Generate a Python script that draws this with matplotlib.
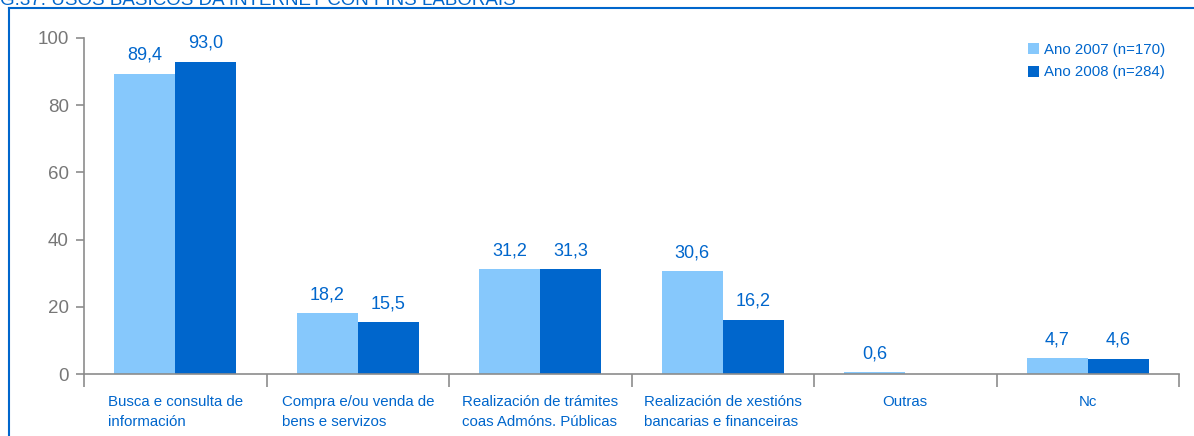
import numpy as np
import matplotlib.pyplot as plt
from matplotlib.lines import Line2D

plt.rcParams['font.family'] = ['Liberation Sans', 'DejaVu Sans']

categorias = ['Busca e consulta de\ninformación',
              'Compra e/ou venda de\nbens e servizos',
              'Realización de trámites\ncoas Admóns. Públicas',
              'Realización de xestións\nbancarias e financeiras',
              'Outras',
              'Nc']
ano_2007 = [89.4, 18.2, 31.2, 30.6, 0.6, 4.7]
ano_2008 = [93.0, 15.5, 31.3, 16.2, np.nan, 4.6]
serie_labels = ['Ano 2007 (n=170)', 'Ano 2008 (n=284)']

azul_claro = '#86c8fc'
azul = '#0066cc'
gris = '#8c8c8c'

fig = plt.figure(figsize=(11.94, 4.36), dpi=100)
ax = fig.add_axes([84 / 1194, 1 - 374 / 436, (1179 - 84) / 1194, (374 - 38) / 436])

x = np.arange(len(categorias))
w = 1 / 3
b1 = ax.bar(x - w / 2, ano_2007, w, color=azul_claro, label=serie_labels[0])
b2 = ax.bar(x + w / 2, np.nan_to_num(ano_2008), w, color=azul, label=serie_labels[1])

for bars, vals in ((b1, ano_2007), (b2, ano_2008)):
    for r, v in zip(bars, vals):
        if np.isnan(v):
            continue
        ax.annotate(f'{v:.1f}'.replace('.', ','), (r.get_x() + r.get_width() / 2, v),
                    xytext=(0, 7), textcoords='offset points',
                    ha='center', va='bottom', fontsize=13, color=azul)

ax.set_xlim(-0.5, len(categorias) - 0.5)
ax.set_ylim(0, 100)
ax.set_yticks(range(0, 101, 20))
ax.tick_params(axis='y', colors=gris, labelsize=13.5, length=6, width=1.2, pad=5)
ax.tick_params(axis='y', labelcolor='#777777')

# category separators as ticks, names centred below each group
ax.set_xticks(np.arange(-0.5, len(categorias), 1))
ax.set_xticklabels([])
ax.tick_params(axis='x', colors=gris, length=9, width=1.2)
for i, c in enumerate(categorias):
    ax.text(i, -6.3, c, ha='center', va='top', multialignment='left',
            fontsize=10.8, color=azul, linespacing=1.5)

for s in ('top', 'right'):
    ax.spines[s].set_visible(False)
for s in ('left', 'bottom'):
    ax.spines[s].set_color(gris)
    ax.spines[s].set_linewidth(1.2)

leg = ax.legend(loc='upper right', bbox_to_anchor=(1.0, 1.025), frameon=False,
                fontsize=10.8, handlelength=0.75, handleheight=0.75, handletextpad=0.35,
                labelspacing=0.55)
for t in leg.get_texts():
    t.set_color(azul)

# caption and frame
fig.text(0.0, 1 - 5 / 436, 'G.37. USOS BÁSICOS DA INTERNET CON FINS LABORAIS',
         ha='left', va='baseline', fontsize=13.5, color=azul)
fig.add_artist(Line2D([9 / 1194, 1193 / 1194], [1 - 8 / 436, 1 - 8 / 436],
                      color=azul, lw=1.5, transform=fig.transFigure))
fig.add_artist(Line2D([9 / 1194, 9 / 1194], [0, 1 - 8 / 436],
                      color=azul, lw=1.5, transform=fig.transFigure))

fig.savefig('out.png', dpi=100)
